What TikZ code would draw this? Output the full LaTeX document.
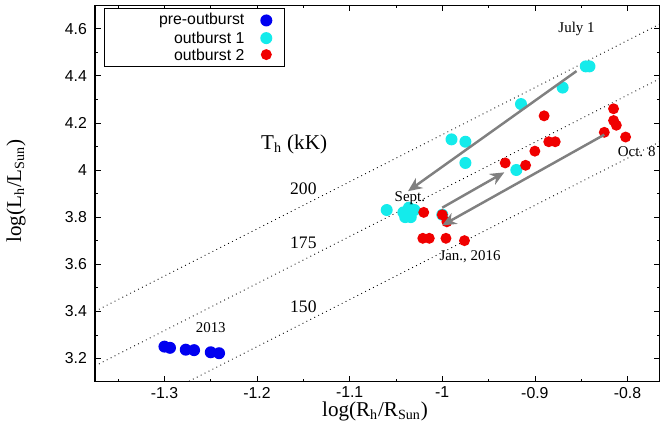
\documentclass[tikz,border=0pt]{standalone}
\usepackage{fontspec}
\setmainfont{Liberation Serif}
\setsansfont{Liberation Sans}
\usetikzlibrary{arrows.meta}
\definecolor{aqua}{RGB}{20,235,235}
\definecolor{ptblue}{RGB}{0,0,240}
\definecolor{ptred}{RGB}{240,0,0}
\tikzset{
  dotpre/.style={fill=ptblue},
  dotone/.style={fill=aqua},
  dottwo/.style={fill=ptred},
  track/.style={draw=gray, line width=1.4pt, -{Stealth[length=8pt,width=7pt,open]}},
  iso/.style={dotted, line width=0.5pt},
  tick/.style={font=\sffamily\fontsize{9}{10}\selectfont},
  note/.style={font=\fontsize{8.5}{10}\selectfont}
}
\begin{document}
\begin{tikzpicture}
\useasboundingbox (0,0) rectangle (13.28,8.42);
\node[font=\fontsize{12}{14}\selectfont, anchor=base] (xl) at (7.5,0.1) {log(R$_\mathrm{h}$/R$_\mathrm{Sun}$)};
\node[font=\fontsize{12}{14}\selectfont, rotate=90] (yl) at (0.32,4.6) {log(L$_\mathrm{h}$/L$_\mathrm{Sun}$)};
\begin{scope}[x=18.52cm,y=4.71cm,shift={(27.365cm,-13.82cm)}]
\coordinate (ll) at (-1.375,3.1);
\coordinate (ur) at (-0.765,4.7);

% isotherms
\begin{scope}
\clip (ll) rectangle (ur);
\draw[iso] (-1.375,3.40) -- (-0.765,4.62);
\draw[iso] (-1.375,3.168) -- (-0.765,4.388);
\draw[iso] (-1.375,2.90) -- (-0.765,4.12);
\end{scope}

\node[note, font=\fontsize{12}{14}\selectfont] (th) at (-1.16,4.11) {T$_\mathrm{h}$ (kK)};
\node[note, font=\fontsize{10}{12}\selectfont] (t200) at (-1.15,3.92) {200};
\node[note, font=\fontsize{10}{12}\selectfont] (t175) at (-1.15,3.69) {175};
\node[note, font=\fontsize{10}{12}\selectfont] (t150) at (-1.15,3.42) {150};

% pre-outburst
\foreach \x/\y in {-1.300/3.25,-1.294/3.245,-1.277/3.237,-1.268/3.235,-1.25/3.226,-1.241/3.222}
  \fill[dotpre] (\x,\y) circle (0.12cm);
% outburst 1
\foreach \x/\y in {-0.845/4.44,-0.841/4.44,-0.87/4.35,-0.915/4.28,-0.99/4.13,-0.975/4.12,-0.975/4.03,-0.92/4.0,-1.06/3.83,-1.042/3.82,-1.036/3.84,-1.04/3.80,-1.034/3.80,-1.03/3.83,-1.0/3.81}
  \fill[dotone] (\x,\y) circle (0.12cm);
% outburst 2
\foreach \x/\y in {-0.815/4.26,-0.815/4.21,-0.812/4.19,-0.825/4.16,-0.802/4.14,-0.89/4.23,-0.878/4.12,-0.885/4.12,-0.90/4.08,-0.91/4.02,-0.932/4.03,-1.02/3.82,-1.0/3.81,-0.995/3.78,-1.021/3.71,-1.014/3.71,-0.996/3.71,-0.976/3.70}
  \fill[dottwo] (\x,\y) circle (0.11cm);

% tracks
\coordinate (jul) at (-0.855,4.42);
\coordinate (sep) at (-1.037,3.91);
\coordinate (sepb) at (-1.0,3.84);
\coordinate (nov) at (-0.933,3.99);
\coordinate (oct) at (-0.825,4.15);
\coordinate (jan) at (-1.0,3.765);
\draw[track] (jul) -- (sep);
\draw[track] (sepb) -- (nov);
\draw[track] (oct) -- (jan);

\node[note] (ljul) at (-0.855,4.6) {July 1};
\node[note] (lsep) at (-1.035,3.88) {Sept.};
\node[note] (loct) at (-0.79,4.08) {Oct. 8};
\node[note] (ljan) at (-0.97,3.63) {Jan., 2016};
\node[note] (l13) at (-1.25,3.33) {2013};

% frame and ticks
\draw[line width=0.6pt] (ll) rectangle (ur);
\foreach \x in {-1.3,-1.2,-1.1,-1,-0.9,-0.8} {
  \draw (\x,3.1) -- ++(0,0.12cm);
  \draw (\x,4.7) -- ++(0,-0.12cm);
  \node[tick, below, inner sep=2pt] at (\x,3.095) {\x};
}
\foreach \x in {-1.35,-1.25,-1.15,-1.05,-0.95,-0.85} {
  \draw (\x,3.1) -- ++(0,0.06cm);
  \draw (\x,4.7) -- ++(0,-0.06cm);
}
\foreach \y/\t in {3.2/3.2,3.4/3.4,3.6/3.6,3.8/3.8,4.0/4,4.2/4.2,4.4/4.4,4.6/4.6} {
  \draw (-1.375,\y) -- ++(0.12cm,0);
  \draw (-0.765,\y) -- ++(-0.12cm,0);
  \node[tick, left] at (-1.377,\y) {\t};
}
\foreach \y in {3.3,3.5,3.7,3.9,4.1,4.3,4.5} {
  \draw (-1.375,\y) -- ++(0.06cm,0);
  \draw (-0.765,\y) -- ++(-0.06cm,0);
}

% legend
\draw[fill=white] (-1.365,4.685) rectangle (-1.17,4.44);
\node[tick, anchor=east] (lg1) at (-1.207,4.635) {pre-outburst};
\node[tick, anchor=east] (lg2) at (-1.207,4.56) {outburst 1};
\node[tick, anchor=east] (lg3) at (-1.207,4.49) {outburst 2};
\fill[dotpre] (-1.19,4.635) circle (0.12cm);
\fill[dotone] (-1.19,4.56) circle (0.12cm);
\fill[dottwo] (-1.19,4.49) circle (0.11cm);
\end{scope}
\end{tikzpicture}
\end{document}
